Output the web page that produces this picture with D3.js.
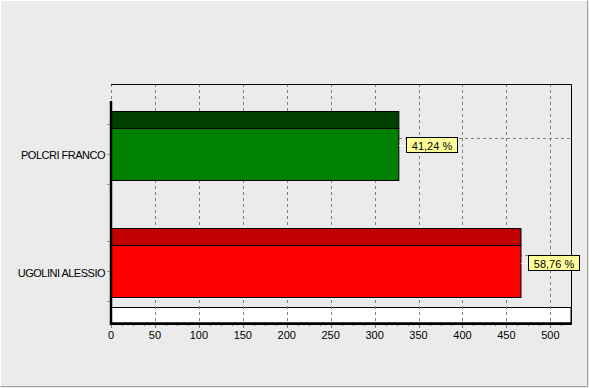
<!DOCTYPE html>
<html>
<head>
<meta charset="utf-8">
<script src="https://cdn.jsdelivr.net/npm/d3@7.9.0/dist/d3.min.js"></script>
<style>
  html, body { margin: 0; padding: 0; background: #ebebeb; }
  svg { display: block; font-family: "Liberation Sans", Arial, sans-serif; }
</style>
</head>
<body>
<svg id="chart" width="589" height="388"></svg>
<script>
// data
const categories = ['POLCRI FRANCO', 'UGOLINI ALESSIO'];
const votes = [327, 466];
const percentLabels = ['41,24 %', '58,76 %'];
const barColors = ['#008000', '#ff0000'];
const topColors = ['#004000', '#c00000'];
const xTicks = [0, 50, 100, 150, 200, 250, 300, 350, 400, 450, 500];

const svg = d3.select('#chart');
const W = 589, H = 388;

// plot box (front plane) + depth of the fake 3d
const pLeft = 111, pRight = 571, pTop = 101, pBottom = 324;
const depth = 17;

const x = d3.scaleLinear().domain([0, 523.5]).range([pLeft, pRight]);
const y = d3.scalePoint().domain(categories).range([pTop, pBottom]).padding(0.445);
const barH = 52;
const minorStep = 12.5;

// outer frame
svg.append('rect').attr('width', W).attr('height', H).attr('fill', '#ebebeb');
svg.append('path').attr('d', `M0.5,${H - 1}V0.5H${W - 1}`)
  .attr('fill', 'none').attr('stroke', '#ffffff');
svg.append('path').attr('d', `M0.5,${H - 1.5}H${W - 1.5}V0.5`)
  .attr('fill', 'none').attr('stroke', '#a0a0a0');

// back wall and floor
svg.append('rect')
  .attr('x', pLeft).attr('y', pTop - depth)
  .attr('width', pRight - pLeft).attr('height', pBottom - pTop)
  .attr('fill', '#ebebeb');
svg.append('rect')
  .attr('x', pLeft).attr('y', pBottom - depth + 0.5)
  .attr('width', pRight - pLeft).attr('height', depth)
  .attr('fill', '#ffffff').attr('stroke', '#000').attr('stroke-width', 1);

// vertical grid
svg.append('g').selectAll('line')
  .data(xTicks)
  .join('line')
  .attr('x1', d => Math.round(x(d)) + 0.5).attr('x2', d => Math.round(x(d)) + 0.5)
  .attr('y1', pTop - depth).attr('y2', pBottom)
  .attr('stroke', '#808080').attr('stroke-dasharray', '3,3');

// horizontal grid on back wall
svg.append('g').selectAll('line')
  .data(categories)
  .join('line')
  .attr('x1', pLeft).attr('x2', pRight)
  .attr('y1', d => Math.round(y(d) - depth + 1) + 0.5)
  .attr('y2', d => Math.round(y(d) - depth + 1) + 0.5)
  .attr('stroke', '#808080').attr('stroke-dasharray', '3,3');

// top and right border of the back wall
svg.append('path')
  .attr('d', `M${pLeft},${pTop - depth + 0.5}H${pRight + 0.5}V${pBottom}`)
  .attr('fill', 'none').attr('stroke', '#000');

// bars: top face + front face
const bars = svg.append('g').selectAll('g')
  .data(categories)
  .join('g');

bars.append('rect')
  .attr('x', pLeft + 0.5)
  .attr('y', d => Math.round(y(d) - barH / 2 - depth) + 0.5)
  .attr('width', (d, i) => x(votes[i]) - pLeft)
  .attr('height', depth)
  .attr('fill', (d, i) => topColors[i])
  .attr('stroke', '#000');

bars.append('rect')
  .attr('x', pLeft + 0.5)
  .attr('y', d => Math.round(y(d) - barH / 2) + 0.5)
  .attr('width', (d, i) => x(votes[i]) - pLeft)
  .attr('height', barH)
  .attr('fill', (d, i) => barColors[i])
  .attr('stroke', '#000');

// left axis (thick)
svg.append('line')
  .attr('x1', pLeft).attr('x2', pLeft)
  .attr('y1', pTop).attr('y2', pBottom + 1)
  .attr('stroke', '#000').attr('stroke-width', 2.5);

// bottom axis (thick)
svg.append('line')
  .attr('x1', pLeft - 1).attr('x2', pRight + 1)
  .attr('y1', pBottom - 0.5).attr('y2', pBottom - 0.5)
  .attr('stroke', '#000').attr('stroke-width', 2.5);

// bottom axis ticks and labels
const minorTicks = d3.range(0, 523.5, minorStep);
svg.append('g').selectAll('line')
  .data(minorTicks)
  .join('line')
  .attr('x1', d => Math.round(x(d)) + 0.5).attr('x2', d => Math.round(x(d)) + 0.5)
  .attr('y1', pBottom + 1).attr('y2', d => pBottom + (d % 50 === 0 ? 4 : 2))
  .attr('stroke', '#808080');

svg.append('g').selectAll('text')
  .data(xTicks)
  .join('text')
  .attr('x', d => x(d))
  .attr('y', pBottom + 15)
  .attr('text-anchor', 'middle')
  .attr('font-size', 11)
  .attr('fill', '#000')
  .text(d => d);

// left axis ticks and labels
svg.append('g').selectAll('line')
  .data(categories.flatMap(c => [y(c) - 30, y(c), y(c) + 30]))
  .join('line')
  .attr('x1', pLeft - 4).attr('x2', pLeft - 1)
  .attr('y1', d => Math.round(d) + 0.5).attr('y2', d => Math.round(d) + 0.5)
  .attr('stroke', '#909090');

svg.append('g').selectAll('text')
  .data(categories)
  .join('text')
  .attr('x', pLeft - 6)
  .attr('y', d => y(d) + 5.5)
  .attr('text-anchor', 'end')
  .attr('font-size', 11)
  .attr('letter-spacing', '-0.5')
  .attr('fill', '#000')
  .text(d => d);

// value labels with connector
const labels = svg.append('g').selectAll('g')
  .data(categories)
  .join('g')
  .attr('transform', (d, i) => `translate(${Math.round(x(votes[i]))},${Math.round(y(d) - depth / 2)})`);

labels.append('line')
  .attr('x1', 1).attr('x2', 8)
  .attr('y1', 0.5).attr('y2', 0.5)
  .attr('stroke', '#ffffff');

labels.append('rect')
  .attr('x', 8.5).attr('y', -7.5)
  .attr('width', 51).attr('height', 15)
  .attr('fill', '#ffff99').attr('stroke', '#000');

labels.append('text')
  .attr('x', 34).attr('y', 4.5)
  .attr('text-anchor', 'middle')
  .attr('font-size', 11)
  .attr('fill', '#000')
  .text((d, i) => percentLabels[i]);
</script>
</body>
</html>
